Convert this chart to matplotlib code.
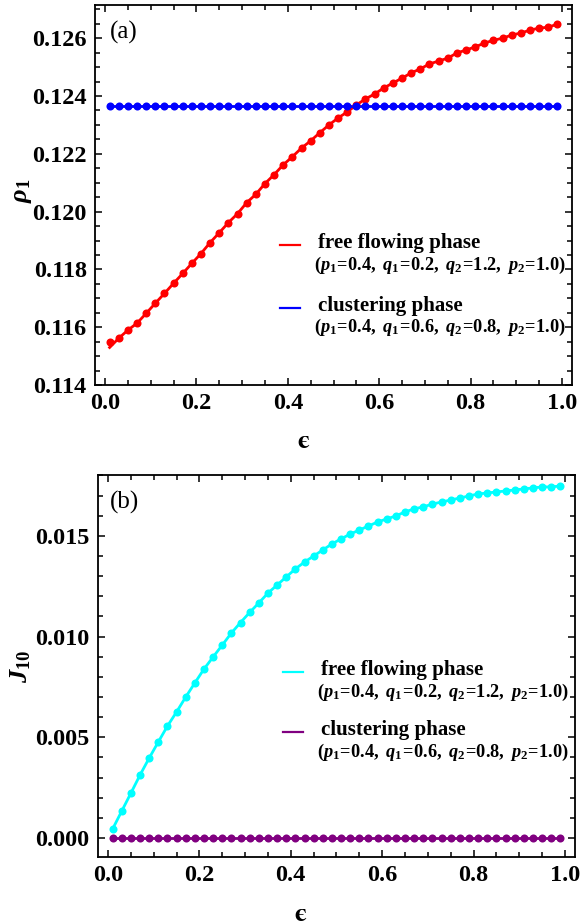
import matplotlib.pyplot as plt
from matplotlib.ticker import MultipleLocator, FormatStrFormatter

# epsilon grid (same for every curve)
eps = [0.01, 0.03, 0.05, 0.07, 0.09, 0.11, 0.13, 0.15, 0.17, 0.19,
       0.21, 0.23, 0.25, 0.27, 0.29, 0.31, 0.33, 0.35, 0.37, 0.39,
       0.41, 0.43, 0.45, 0.47, 0.49, 0.51, 0.53, 0.55, 0.57, 0.59,
       0.61, 0.63, 0.65, 0.67, 0.69, 0.71, 0.73, 0.75, 0.77, 0.79,
       0.81, 0.83, 0.85, 0.87, 0.89, 0.91, 0.93, 0.95, 0.97, 0.99]

# density rho_1, free flowing phase (simulation points)
rho_free = [0.11548, 0.11562, 0.11590, 0.11614, 0.11648, 0.11683, 0.11717, 0.11752, 0.11786, 0.11821,
            0.11855, 0.11893, 0.11927, 0.11962, 0.11993, 0.12031, 0.12060, 0.12097, 0.12128, 0.12162,
            0.12190, 0.12220, 0.12245, 0.12273, 0.12300, 0.12324, 0.12345, 0.12369, 0.12390, 0.12407,
            0.12428, 0.12445, 0.12462, 0.12480, 0.12494, 0.12511, 0.12521, 0.12531, 0.12549, 0.12559,
            0.12570, 0.12583, 0.12593, 0.12600, 0.12611, 0.12618, 0.12628, 0.12635, 0.12638, 0.12649]
# mean-field curve starts a little lower than the first point
rho_free_curve = [0.11530] + rho_free[1:]

# clustering phase is flat
rho_clust = [0.12366] * len(eps)

# current J_10
J_free = [0.00045, 0.00134, 0.00223, 0.00313, 0.00397, 0.00477, 0.00556, 0.00626, 0.00700, 0.00770,
          0.00839, 0.00899, 0.00958, 0.01018, 0.01070, 0.01120, 0.01167, 0.01216, 0.01256, 0.01296,
          0.01336, 0.01370, 0.01400, 0.01430, 0.01460, 0.01485, 0.01509, 0.01529, 0.01549, 0.01569,
          0.01584, 0.01599, 0.01619, 0.01634, 0.01644, 0.01658, 0.01668, 0.01678, 0.01688, 0.01698,
          0.01708, 0.01713, 0.01718, 0.01723, 0.01728, 0.01733, 0.01738, 0.01743, 0.01743, 0.01748]
J_clust = [0.0] * len(eps)

par_free = r'$(p_1\!=\!0.4,\ q_1\!=\!0.2,\ q_2\!=\!1.2,\ p_2\!=\!1.0)$'
par_clust = r'$(p_1\!=\!0.4,\ q_1\!=\!0.6,\ q_2\!=\!0.8,\ p_2\!=\!1.0)$'

plt.rcParams['font.family'] = ['Liberation Serif', 'DejaVu Serif']
plt.rcParams['mathtext.fontset'] = 'custom'
plt.rcParams['mathtext.rm'] = 'Liberation Serif:bold'
plt.rcParams['mathtext.it'] = 'Liberation Serif:italic:bold'
plt.rcParams['mathtext.bf'] = 'Liberation Serif:bold'
plt.rcParams['mathtext.fallback'] = 'stix'

fig = plt.figure(figsize=(5.85, 9.24), dpi=100)
ax1 = fig.add_axes([0.1624, 0.5833, 0.8154, 0.4113])
ax2 = fig.add_axes([0.1675, 0.0725, 0.8154, 0.4134])


def style(ax):
    for s in ax.spines.values():
        s.set_linewidth(1.3)
    ax.tick_params(which='both', direction='in', top=True, right=True, width=1.1)
    ax.tick_params(which='major', length=5, labelsize=17.5, pad=6)
    ax.tick_params(which='minor', length=3.5)
    for lab in ax.get_xticklabels() + ax.get_yticklabels():
        lab.set_fontweight('bold')
    ax.set_xlim(-0.022, 1.022)
    ax.xaxis.set_major_locator(MultipleLocator(0.2))
    ax.xaxis.set_minor_locator(MultipleLocator(0.05))
    ax.xaxis.set_major_formatter(FormatStrFormatter('%.1f'))
    ax.yaxis.set_major_formatter(FormatStrFormatter('%.3f'))


def curve(ax, y_pts, y_line, color):
    ax.plot(eps, y_line, color=color, lw=2.0, zorder=2)
    ax.plot(eps, y_pts, 'o', color=color, ms=5.8, mec='none', zorder=3)


def key(ax, y, color, title, params):
    ax.plot([0.388, 0.430], [y, y], color=color, lw=1.6, transform=ax.transAxes)
    ax.text(0.468, y + 0.006, title, transform=ax.transAxes, fontsize=15,
            fontweight='bold', va='center', ha='left')
    ax.text(0.459, y - 0.052, params, transform=ax.transAxes, fontsize=13.2,
            va='center', ha='left')


# panel (a)
curve(ax1, rho_free, rho_free_curve, '#ff0000')
curve(ax1, rho_clust, rho_clust, '#0000ff')
ax1.set_ylim(0.114, 0.12715)
ax1.yaxis.set_major_locator(MultipleLocator(0.002))
ax1.yaxis.set_minor_locator(MultipleLocator(0.0005))
style(ax1)
ax1.set_ylabel(r'$\rho_1$', fontsize=19)
ax1.yaxis.set_label_coords(-0.128, 0.51)
ax1.set_xlabel('\u03f5', family='STIXGeneral', fontweight='bold', fontsize=19)
ax1.xaxis.set_label_coords(0.436, -0.122)
ax1.text(0.031, 0.929, '(a)', transform=ax1.transAxes, fontsize=18, va='center')
key(ax1, 0.368, '#ff0000', 'free flowing phase', par_free)
key(ax1, 0.203, '#0000ff', 'clustering phase', par_clust)

# panel (b)
curve(ax2, J_free, J_free, '#00ffff')
curve(ax2, J_clust, J_clust, '#800080')
ax2.set_ylim(-0.00094, 0.01802)
ax2.yaxis.set_major_locator(MultipleLocator(0.005))
ax2.yaxis.set_minor_locator(MultipleLocator(0.001))
style(ax2)
ax2.set_ylabel(r'$J_{10}$', fontsize=19)
ax2.yaxis.set_label_coords(-0.136, 0.50)
ax2.set_xlabel('\u03f5', family='STIXGeneral', fontweight='bold', fontsize=19)
ax2.xaxis.set_label_coords(0.423, -0.122)
ax2.text(0.025, 0.927, '(b)', transform=ax2.transAxes, fontsize=18, va='center')
key(ax2, 0.484, '#00ffff', 'free flowing phase', par_free)
key(ax2, 0.327, '#800080', 'clustering phase', par_clust)

fig.savefig('out.png', dpi=100)
